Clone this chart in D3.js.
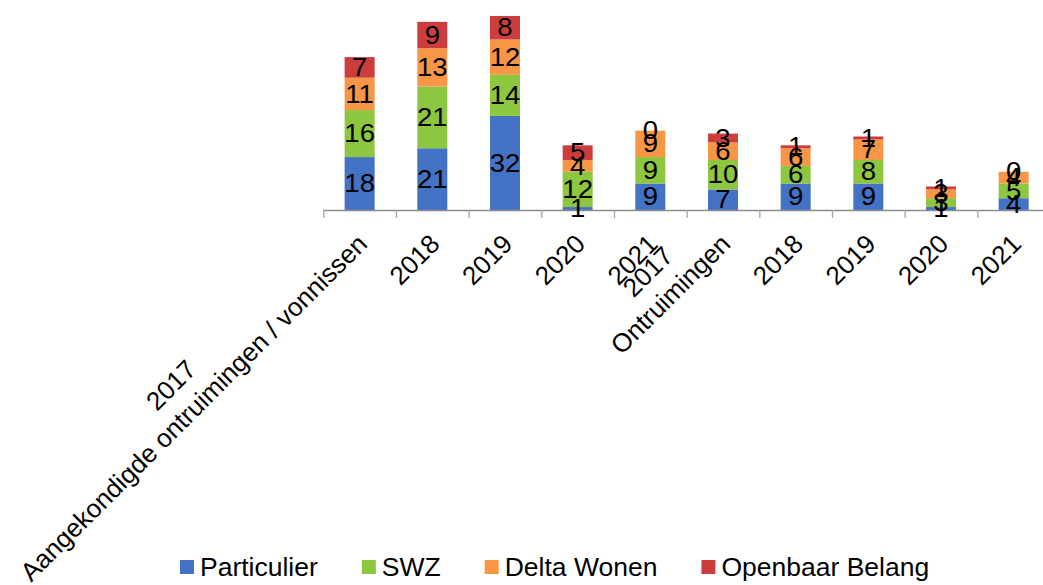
<!DOCTYPE html>
<html>
<head>
<meta charset="utf-8">
<script src="https://cdn.jsdelivr.net/npm/d3@7"></script>
<style>
  html, body { margin: 0; padding: 0; background: #ffffff; }
  svg { display: block; font-family: "Liberation Sans", Arial, sans-serif; }
</style>
</head>
<body>
<svg id="chart" width="1043" height="585"></svg>
<script>
// Years shown under each bar, grouped in two blocks
const categories = ["2017", "2018", "2019", "2020", "2021", "2017", "2018", "2019", "2020", "2021"];
const groupNames = ["Aangekondigde ontruimingen / vonnissen", "Ontruimingen"];
const groupStarts = [0, 5];

// Stacked series (bottom to top)
const particulier    = [18, 21, 32, 1, 9, 7, 9, 9, 1, 4];
const swz            = [16, 21, 14, 12, 9, 10, 6, 8, 3, 5];
const deltaWonen     = [11, 13, 12, 4, 9, 6, 6, 7, 3, 4];
const openbaarBelang = [7, 9, 8, 5, 0, 3, 1, 1, 1, 0];

const seriesNames  = ["Particulier", "SWZ", "Delta Wonen", "Openbaar Belang"];
const seriesColors = ["#4472C4", "#8DC63F", "#F79646", "#CC3D3D"];
const yDomainMax = 70;

const svg = d3.select("#chart");
const W = 1043, H = 585;
svg.append("rect").attr("width", W).attr("height", H).attr("fill", "#ffffff");

const plotLeft = 323.3, plotRight = 1050, axisY = 210, plotTop = 4.2;

const rows = categories.map((c, i) => ({
  i,
  Particulier: particulier[i],
  SWZ: swz[i],
  "Delta Wonen": deltaWonen[i],
  "Openbaar Belang": openbaarBelang[i]
}));

const stack = d3.stack().keys(seriesNames);
const stacked = stack(rows);

const x = d3.scaleBand()
  .domain(d3.range(categories.length))
  .range([plotLeft, plotRight])
  .paddingInner(0.587)
  .paddingOuter(0.2935);

const y = d3.scaleLinear().domain([0, yDomainMax]).range([axisY, plotTop]);

// category boundaries for the tick marks
const xEdge = d3.scaleLinear().domain([0, categories.length]).range([plotLeft, plotRight]);

// bars
const layers = svg.append("g").selectAll("g")
  .data(stacked)
  .join("g")
  .attr("fill", (d, k) => seriesColors[k]);

layers.selectAll("rect")
  .data(d => d)
  .join("rect")
  .attr("x", d => x(d.data.i))
  .attr("width", x.bandwidth())
  .attr("y", d => y(d[1]))
  .attr("height", d => y(d[0]) - y(d[1]));

// axis with tick marks between categories
const axis = d3.axisBottom(xEdge)
  .tickValues(d3.range(0, categories.length + 1))
  .tickFormat("")
  .tickSize(8)
  .tickSizeOuter(0);

const axisG = svg.append("g")
  .attr("transform", `translate(0,${axisY})`)
  .call(axis);
axisG.select(".domain").attr("stroke", "#8c8c8c").attr("stroke-width", 1.3);
axisG.selectAll(".tick line").attr("stroke", "#a6a6a6").attr("stroke-width", 1.3);

// value labels centred in each segment
const labelG = svg.append("g");
stacked.forEach(layer => {
  layer.forEach(d => {
    const cx = x(d.data.i) + x.bandwidth() / 2;
    const cy = (y(d[0]) + y(d[1])) / 2;
    labelG.append("text")
      .attr("transform", `translate(${cx},${cy}) scale(1.08,1)`)
      .attr("text-anchor", "middle")
      .attr("dominant-baseline", "central")
      .attr("font-size", 25.5)
      .attr("fill", "#000000")
      .text(d[1] - d[0]);
  });
});

// rotated category labels (year, plus group name under the first year)
const tickLabelSize = 26;
const lineGap = 32;
const catG = svg.append("g").attr("font-size", tickLabelSize).attr("fill", "#000000");
categories.forEach((c, i) => {
  const cx = x(i) + x.bandwidth() / 2;
  const g = catG.append("g")
    .attr("transform", `translate(${cx + 9},${axisY + 35.5}) rotate(-45)`);
  const gi = groupStarts.indexOf(i);
  if (gi < 0) {
    g.append("text").attr("text-anchor", "end").text(c);
  } else {
    const lower = g.append("text").attr("text-anchor", "middle").text(groupNames[gi]);
    const upper = g.append("text").attr("text-anchor", "middle").text(c);
    const wLower = lower.node().getComputedTextLength();
    const wUpper = upper.node().getComputedTextLength();
    const wMax = Math.max(wLower, wUpper);
    lower.attr("x", -wMax / 2).attr("y", 0);
    upper.attr("x", -wMax / 2).attr("y", -lineGap);
  }
});

// legend
const legendG = svg.append("g").attr("font-size", 26.5);
let lx = 180;
const legendY = 567;
seriesNames.forEach((name, k) => {
  legendG.append("rect")
    .attr("x", lx).attr("y", legendY - 7)
    .attr("width", 14).attr("height", 14)
    .attr("fill", seriesColors[k]);
  const t = legendG.append("text")
    .attr("x", lx + 20).attr("y", legendY + 9)
    .attr("fill", "#000000")
    .text(name);
  lx += 20 + t.node().getComputedTextLength() + 44;
});
</script>
</body>
</html>
